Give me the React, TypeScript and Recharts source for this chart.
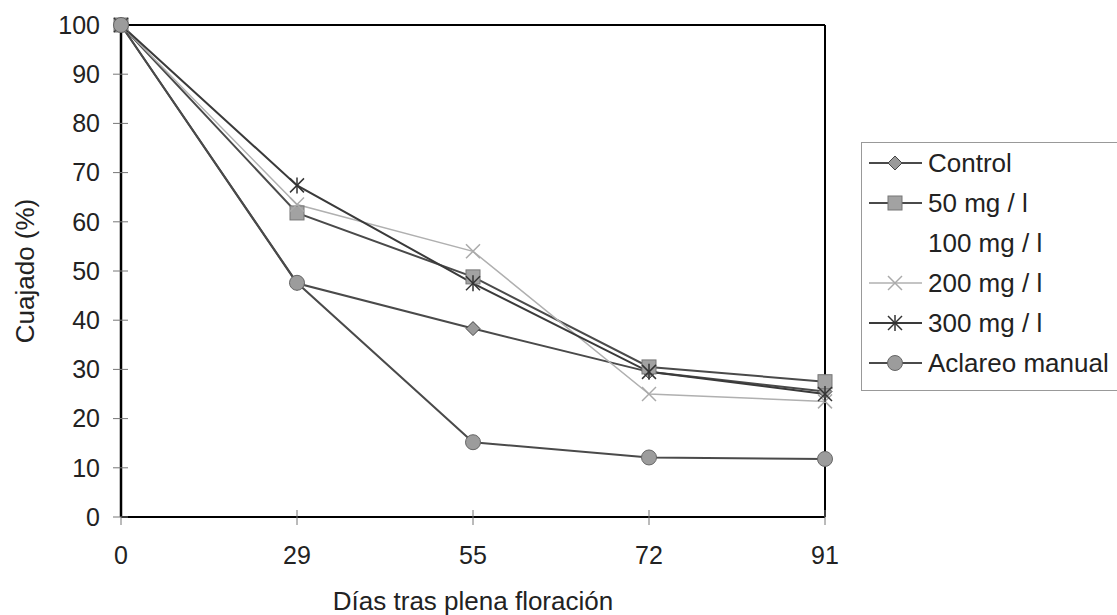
import React from 'react';
import { LineChart, Line, XAxis, YAxis, ReferenceLine } from 'recharts';

const days = ['0', '29', '55', '72', '91'];
const control = [100, 47.5, 38.3, 29.5, 25.5];
const mg50 = [100, 61.8, 48.8, 30.5, 27.5];
const mg200 = [100, 63.5, 54, 25, 23.5];
const mg300 = [100, 67.4, 47.5, 29.5, 25];
const aclareo = [100, 47.6, 15.2, 12.1, 11.8];
const yTicks = [0, 10, 20, 30, 40, 50, 60, 70, 80, 90, 100];

type Kind = 'diamond' | 'square' | 'none' | 'cross' | 'star' | 'circle';

const series: { key: string; name: string; values: number[] | null; stroke: string; width: number; marker: Kind }[] = [
  { key: 'control', name: 'Control', values: control, stroke: '#4a4a4a', width: 2, marker: 'diamond' },
  { key: 'mg50', name: '50 mg / l', values: mg50, stroke: '#4a4a4a', width: 2, marker: 'square' },
  { key: 'mg100', name: '100 mg / l', values: null, stroke: 'none', width: 0, marker: 'none' },
  { key: 'mg200', name: '200 mg / l', values: mg200, stroke: '#b0b0b0', width: 1.5, marker: 'cross' },
  { key: 'mg300', name: '300 mg / l', values: mg300, stroke: '#3a3a3a', width: 2, marker: 'star' },
  { key: 'aclareo', name: 'Aclareo manual', values: aclareo, stroke: '#4a4a4a', width: 2, marker: 'circle' },
];

const data = days.map((d, i) => {
  const row: Record<string, string | number> = { day: d };
  series.forEach((s) => {
    if (s.values) row[s.key] = s.values[i];
  });
  return row;
});

const font = '"Liberation Sans", Arial, sans-serif';

function Marker({ kind, cx, cy }: { kind: Kind; cx: number; cy: number }) {
  switch (kind) {
    case 'diamond':
      return (
        <polygon
          points={`${cx},${cy - 7} ${cx + 7},${cy} ${cx},${cy + 7} ${cx - 7},${cy}`}
          fill="#9a9a9a"
          stroke="#444"
          strokeWidth={1}
        />
      );
    case 'square':
      return <rect x={cx - 7} y={cy - 7} width={14} height={14} fill="#a2a2a2" stroke="#777" strokeWidth={1} />;
    case 'cross':
      return (
        <g stroke="#aaa" strokeWidth={1.5}>
          <line x1={cx - 7} y1={cy - 7} x2={cx + 7} y2={cy + 7} />
          <line x1={cx - 7} y1={cy + 7} x2={cx + 7} y2={cy - 7} />
        </g>
      );
    case 'star':
      return (
        <g stroke="#333" strokeWidth={1.5}>
          <line x1={cx - 7} y1={cy - 7} x2={cx + 7} y2={cy + 7} />
          <line x1={cx - 7} y1={cy + 7} x2={cx + 7} y2={cy - 7} />
          <line x1={cx} y1={cy - 8} x2={cx} y2={cy + 8} />
        </g>
      );
    case 'circle':
      return <circle cx={cx} cy={cy} r={7.5} fill="#9c9c9c" stroke="#666" strokeWidth={1} />;
    default:
      return null;
  }
}

const App = () => {
  return (
    <div style={{ position: 'absolute', left: 0, top: 0, width: 1117, height: 615, background: '#fff', fontFamily: font, overflow: 'hidden' }}>
      <LineChart width={1117} height={615} data={data} margin={{ top: 25, right: 292, bottom: 0, left: 0 }}>
        <XAxis
          dataKey="day"
          height={98}
          axisLine={{ stroke: '#000', strokeWidth: 2 }}
          tickLine={{ stroke: '#777', transform: 'translate(0,-7)' }}
          tickSize={15}
          tickMargin={14}
          tick={{ fill: '#222', fontSize: 25, fontFamily: font }}
          label={{ value: 'Días tras plena floración', position: 'insideBottom', offset: 5, fill: '#222', fontSize: 26, fontFamily: font }}
        />
        <YAxis
          domain={[0, 100]}
          ticks={yTicks}
          width={121}
          interval={0}
          axisLine={{ stroke: '#000', strokeWidth: 2.5 }}
          tickLine={{ stroke: '#777', transform: 'translate(7,0)' }}
          tickSize={15}
          tickMargin={6}
          tick={{ fill: '#222', fontSize: 25, fontFamily: font }}
          label={{ value: 'Cuajado (%)', angle: -90, position: 'insideLeft', offset: 25, fill: '#222', fontSize: 26, fontFamily: font, style: { textAnchor: 'middle' } }}
        />
        <ReferenceLine y={100} stroke="#000" strokeWidth={2} />
        <ReferenceLine x="91" stroke="#000" strokeWidth={2} />
        {series
          .filter((s) => s.values)
          .map((s) => (
            <Line
              key={s.key}
              dataKey={s.key}
              name={s.name}
              type="linear"
              stroke={s.stroke}
              strokeWidth={s.width}
              isAnimationActive={false}
              dot={(p: any) => <Marker key={`${s.key}-${p.index}`} kind={s.marker} cx={p.cx} cy={p.cy} />}
              activeDot={false}
            />
          ))}
      </LineChart>
      <div
        style={{
          position: 'absolute',
          left: 861,
          top: 142,
          width: 270,
          height: 249,
          border: '1px solid #999',
          boxSizing: 'border-box',
        }}
      >
        {series.map((s) => (
          <div key={s.key} style={{ display: 'flex', alignItems: 'center', height: 40, fontSize: 26, color: '#222', whiteSpace: 'nowrap' }}>
            <svg width={56} height={20} style={{ marginLeft: 6, marginRight: 4, flexShrink: 0 }}>
              {s.marker !== 'none' && (
                <>
                  <line x1={1} y1={10} x2={54} y2={10} stroke={s.stroke} strokeWidth={s.width} />
                  <Marker kind={s.marker} cx={27} cy={10} />
                </>
              )}
            </svg>
            <span>{s.name}</span>
          </div>
        ))}
      </div>
    </div>
  );
};

export default App;
